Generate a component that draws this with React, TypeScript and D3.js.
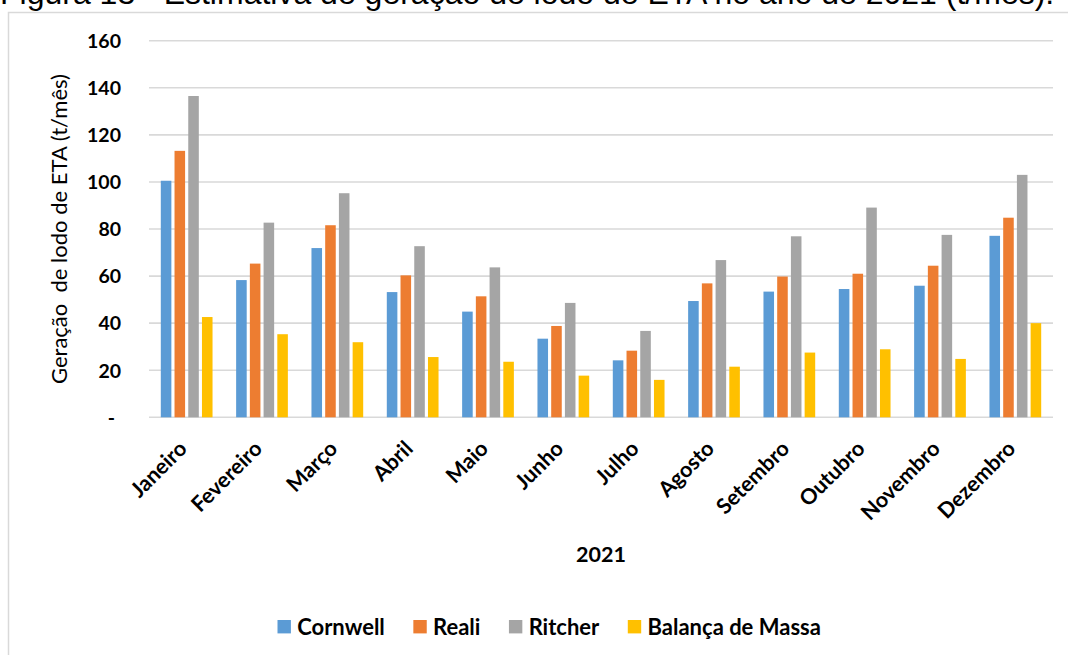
import React, { useEffect, useRef } from "react";
import * as d3 from "d3";

const months = [
  "Janeiro", "Fevereiro", "Março", "Abril", "Maio", "Junho",
  "Julho", "Agosto", "Setembro", "Outubro", "Novembro", "Dezembro",
];
const seriesNames = ["Cornwell", "Reali", "Ritcher", "Balança de Massa"];
const cornwell = [100.5, 58.3, 71.9, 53.2, 44.9, 33.4, 24.2, 49.4, 53.4, 54.5, 55.9, 77.1];
const reali = [113.2, 65.3, 81.6, 60.3, 51.4, 38.8, 28.3, 56.9, 59.8, 61.0, 64.4, 84.8];
const ritcher = [136.5, 82.7, 95.2, 72.7, 63.7, 48.6, 36.7, 66.8, 76.9, 89.1, 77.5, 103.0];
const balanca = [42.6, 35.3, 31.9, 25.6, 23.6, 17.7, 15.9, 21.5, 27.5, 28.9, 24.8, 40.0];
const yTicks = [0, 20, 40, 60, 80, 100, 120, 140, 160];
const colors = ["#5B9BD5", "#ED7D31", "#A5A5A5", "#FFC000"];

const W = 1068;
const H = 655;
const FONT = "Lato, 'Open Sans', sans-serif";

export default function App() {
  const ref = useRef<SVGSVGElement | null>(null);

  useEffect(() => {
    const svg = d3.select(ref.current);
    svg.selectAll("*").remove();

    const values = [cornwell, reali, ritcher, balanca];
    const plot = { left: 149, right: 1053, top: 40.7, bottom: 417.3 };

    const x0 = d3.scaleBand<string>().domain(months).range([plot.left, plot.right]).padding(0);
    const x1 = d3
      .scaleBand<string>()
      .domain(seriesNames)
      .range([0, x0.bandwidth()])
      .paddingInner(0.23)
      .paddingOuter(0.86);
    const y = d3.scaleLinear().domain([0, 160]).range([plot.bottom, plot.top]);

    // Page caption above the chart frame
    svg
      .append("text")
      .attr("x", 0)
      .attr("y", 4)
      .attr("font-family", "'Liberation Sans', Arial, sans-serif")
      .attr("font-size", 32)
      .attr("fill", "#000")
      .text("Figura 13 - Estimativa de geração de lodo de ETA no ano de 2021 (t/mês).");

    // Chart frame
    svg
      .append("rect")
      .attr("x", 8.5)
      .attr("y", 12.5)
      .attr("width", W + 40)
      .attr("height", H + 40)
      .attr("fill", "#fff")
      .attr("stroke", "#D9D9D9")
      .attr("stroke-width", 1.5);

    // Gridlines
    svg
      .append("g")
      .selectAll("line")
      .data(yTicks)
      .join("line")
      .attr("x1", plot.left)
      .attr("x2", plot.right)
      .attr("y1", (d) => y(d))
      .attr("y2", (d) => y(d))
      .attr("stroke", "#D9D9D9")
      .attr("stroke-width", 1.6);

    // Y tick labels
    svg
      .append("g")
      .selectAll("text")
      .data(yTicks)
      .join("text")
      .attr("x", (d) => (d === 0 ? 115 : 121))
      .attr("y", (d) => y(d) + 7.3)
      .attr("text-anchor", "end")
      .attr("font-family", FONT)
      .attr("font-weight", 700)
      .attr("font-size", 19.5)
      .attr("fill", "#000")
      .text((d) => (d === 0 ? "-" : String(d)));

    // Y axis title
    svg
      .append("text")
      .attr("transform", `translate(67, ${(plot.top + plot.bottom) / 2}) rotate(-90)`)
      .attr("text-anchor", "middle")
      .attr("font-family", FONT)
      .attr("font-size", 22)
      .attr("fill", "#000")
      .style("white-space", "pre")
      .text("Geração  de lodo de ETA (t/mês)");

    // Bars
    const groups = svg
      .append("g")
      .selectAll("g")
      .data(months)
      .join("g")
      .attr("transform", (m) => `translate(${x0(m)},0)`);

    groups
      .selectAll("rect")
      .data((m, i) => seriesNames.map((s, k) => ({ s, k, v: values[k][i] })))
      .join("rect")
      .attr("x", (d) => x1(d.s)!)
      .attr("width", x1.bandwidth())
      .attr("y", (d) => y(d.v))
      .attr("height", (d) => y(0) - y(d.v))
      .attr("fill", (d) => colors[d.k]);

    // X labels, rotated
    svg
      .append("g")
      .selectAll("text")
      .data(months)
      .join("text")
      .attr(
        "transform",
        (m) => `translate(${x0(m)! + x0.bandwidth() / 2 + 1.5}, 450) rotate(-45)`
      )
      .attr("text-anchor", "end")
      .attr("font-family", FONT)
      .attr("font-weight", 700)
      .attr("font-size", 21.5)
      .attr("fill", "#000")
      .text((m) => m);

    // X axis title
    svg
      .append("text")
      .attr("x", (plot.left + plot.right) / 2)
      .attr("y", 561.5)
      .attr("text-anchor", "middle")
      .attr("font-family", FONT)
      .attr("font-weight", 700)
      .attr("font-size", 21.5)
      .attr("fill", "#000")
      .text("2021");

    // Legend
    const legend = svg.append("g");
    let lx = 277.5;
    seriesNames.forEach((s, k) => {
      legend
        .append("rect")
        .attr("x", lx)
        .attr("y", 620)
        .attr("width", 13.4)
        .attr("height", 13.4)
        .attr("fill", colors[k]);
      const t = legend
        .append("text")
        .attr("x", lx + 19.7)
        .attr("y", 634.5)
        .attr("font-family", FONT)
        .attr("font-weight", 700)
        .attr("font-size", 22)
        .attr("fill", "#000")
        .text(s);
      const w = (t.node() as SVGTextElement).getComputedTextLength();
      lx = lx + 19.7 + w + 28.5;
    });
  }, []);

  return (
    <svg
      ref={ref}
      width={W}
      height={H}
      style={{ position: "absolute", left: 0, top: 0, background: "#fff" }}
    />
  );
}
